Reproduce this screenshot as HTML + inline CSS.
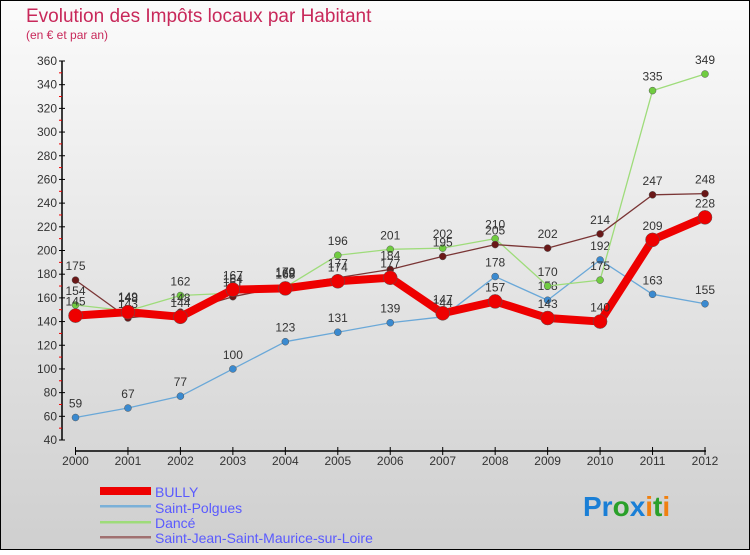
<!DOCTYPE html>
<html><head><meta charset="utf-8"><style>
body{margin:0;width:750px;height:550px;overflow:hidden;font-family:"Liberation Sans",sans-serif}
</style></head><body>
<svg width="750" height="550" xmlns="http://www.w3.org/2000/svg" font-family="Liberation Sans, sans-serif">
<defs><linearGradient id="bg" x1="0" y1="0" x2="0" y2="1"><stop offset="0" stop-color="#fbfbfb"/><stop offset="1" stop-color="#cfcfcf"/></linearGradient></defs>
<rect x="0.5" y="0.5" width="749" height="549" fill="url(#bg)" stroke="#000"/>
<text x="26" y="22" font-size="19" fill="#c8285a">Evolution des Impôts locaux par Habitant</text>
<text x="26" y="39" font-size="12" fill="#c8285a">(en € et par an)</text>
<g id="axes"></g>
<g id="series"></g>
<g font-size="14" fill="#5a5aff">
<rect x="100" y="487" width="51" height="8" fill="#e00"/>
<text x="155" y="497" fill="#5a5aff">BULLY</text>
<rect x="100" y="505" width="51" height="2.5" fill="#7ab0d8"/>
<text x="155" y="513" fill="#5a5aff">Saint-Polgues</text>
<rect x="100" y="521" width="51" height="2.5" fill="#9edc7a"/>
<text x="155" y="528" fill="#5a5aff">Dancé</text>
<rect x="100" y="536" width="51" height="2.5" fill="#a07070"/>
<text x="155" y="543" fill="#5a5aff">Saint-Jean-Saint-Maurice-sur-Loire</text>
</g>
<text x="583" y="516" font-size="28" font-weight="bold"><tspan fill="#1a7fd6">Pr</tspan><tspan fill="#2aa02a">o</tspan><tspan fill="#1a7fd6">x</tspan><tspan fill="#f08010">i</tspan><tspan fill="#2aa02a">t</tspan><tspan fill="#f08010">i</tspan></text>
</svg>
<script>
const years=[2000,2001,2002,2003,2004,2005,2006,2007,2008,2009,2010,2011,2012];
const yTicks=[40,60,80,100,120,140,160,180,200,220,240,260,280,300,320,340,360];
const bully=[145,148,144,167,168,174,177,147,157,143,140,209,228];
const saintPolgues=[59,67,77,100,123,131,139,144,178,158,192,163,155];
const dance=[154,149,162,164,169,196,201,202,210,170,175,335,349];
const saintJean=[175,143,148,161,170,177,184,195,205,202,214,247,248];
const NS="http://www.w3.org/2000/svg";
const X=i=>75.5+i*(705-75.5)/(years.length-1);
const Y=v=>440-(v-40)*(440-61)/320;
function mk(tag,attrs,parent){const e=document.createElementNS(NS,tag);for(const k in attrs)e.setAttribute(k,attrs[k]);parent.appendChild(e);return e;}
const ax=document.getElementById('axes');
let yl=mk('line',{x1:62,y1:61,x2:62,y2:440,stroke:'#000','stroke-width':1.5},ax);


yTicks.forEach(t=>{
  const y=Y(t);
  mk('line',{x1:59,y1:y,x2:65,y2:y,stroke:'#000'},ax);
  if(t<360)mk('line',{x1:59,y1:Y(t+10),x2:62,y2:Y(t+10),stroke:'#e00'},ax);
  const tx=mk('text',{x:57,y:y+4,'font-size':12,'text-anchor':'end',fill:'#333'},ax);
  tx.textContent=t;
  
  
});
let xl=mk('line',{x1:75,y1:451,x2:706,y2:451,stroke:'#000','stroke-width':1.5},ax);


years.forEach((yr,i)=>{
  mk('line',{x1:X(i),y1:447,x2:X(i),y2:455,stroke:'#000'},ax);
  const tx=mk('text',{x:X(i),y:465,'font-size':12,'text-anchor':'middle',fill:'#333'},ax);
  tx.textContent=yr;
  
  
});
const sg=document.getElementById('series');
function draw(name,vals,color,dot,w,r){
  const g=mk('g',{},sg);
  
  
  const p=mk('polyline',{points:vals.map((v,i)=>X(i)+','+Y(v)).join(' '),fill:'none',stroke:color,'stroke-width':w,'stroke-linejoin':'round'},g);
  
  
  vals.forEach((v,i)=>{
    const c=mk('circle',{cx:X(i),cy:Y(v),r:r,fill:dot,stroke:'#555','stroke-width':0.5},g);
    
    
    const t=mk('text',{x:X(i),y:Y(v)-10,'font-size':12,'text-anchor':'middle',fill:'#333'},g);
    t.textContent=v;
    
    
  });
}
draw('saint-polgues',saintPolgues,'#6aa8d8','#3a8ad0',1.3,3.5);
draw('dance',dance,'#9edc7a','#70cc40',1.3,3.5);
draw('saint-jean',saintJean,'#7a3535','#6a1818',1.3,3.5);
draw('bully',bully,'#e00','#e00',8,7);
</script>
</body></html>
